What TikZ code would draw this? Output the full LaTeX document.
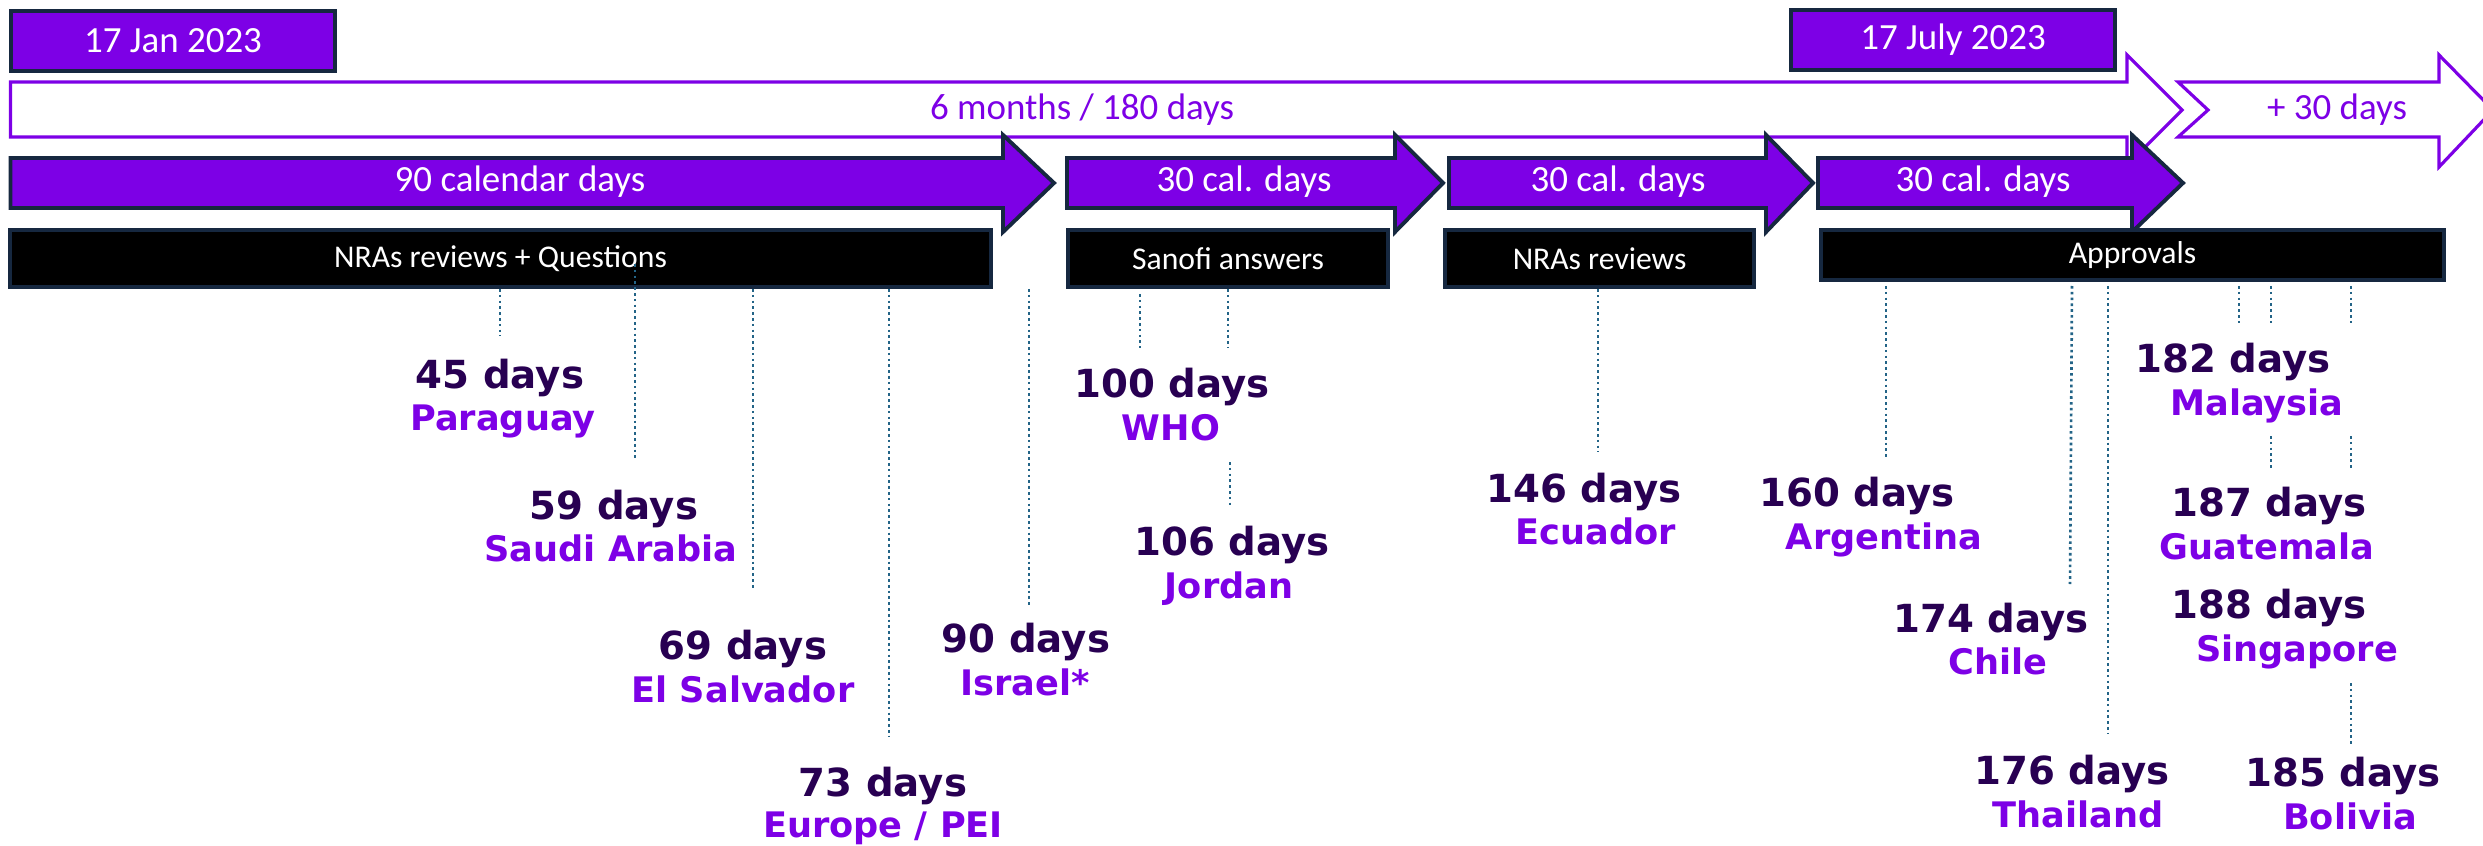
\documentclass[tikz,border=0pt]{standalone}
\usepackage{fontspec}
\setmainfont{Carlito}
\newfontfamily\daysfont{DejaVu Sans}
\definecolor{vio}{RGB}{125,0,230}
\definecolor{navy}{RGB}{22,40,64}
\definecolor{daycol}{RGB}{40,0,82}
\definecolor{leadcol}{RGB}{35,100,135}
\begin{document}
\begin{tikzpicture}[x=0.01cm, y=-0.01cm,
		datebox/.style={draw=navy, line width=1.1pt, fill=vio, text=white, inner sep=0pt, font=\fontsize{10.5}{12}\selectfont},
		phasebox/.style={draw=navy, line width=1.1pt, fill=black, text=white, inner sep=0pt, font=\fontsize{9}{11}\selectfont},
		openarrow/.style={draw=vio, line width=0.9pt, fill=white, line join=miter},
		fullarrow/.style={draw=navy, line width=1.1pt, fill=vio, line join=miter},
		barlabel/.style={text=white, font=\fontsize{10.5}{12}\selectfont},
		days/.style={anchor=base, inner sep=0pt, text=daycol, font=\daysfont\bfseries\fontsize{11}{13}\selectfont},
		land/.style={anchor=base, inner sep=0pt, text=vio, font=\daysfont\bfseries\fontsize{10}{12}\selectfont},
		leader/.style={draw=leadcol, line width=0.75pt, dash pattern=on 0.75pt off 0.9pt}]
	\useasboundingbox (0,0) rectangle (2483,846);

	\node[datebox, minimum width=3.243cm, minimum height=0.603cm] (jan) at (173,41) {17 Jan 2023};
	\node[datebox, minimum width=3.24cm, minimum height=0.593cm] (jul) at (1953,40) {17 July 2023};

	\draw[openarrow] (10.5,82) -- (2127,82) -- (2127,55) -- (2182,110) -- (2127,165) -- (2127,137) -- (10.5,137) -- cycle;
	\node[text=vio, font=\fontsize{10.5}{12}\selectfont] (six) at (1082,110) {6 months / 180 days};
	\draw[openarrow] (2178,82) -- (2439,82) -- (2439,55) -- (2493,110) -- (2439,167) -- (2439,137) -- (2178,137) -- (2208,110) -- cycle;
	\node[text=vio, font=\fontsize{10.5}{12}\selectfont] (plus) at (2337,110) {+ 30 days};

	\draw[fullarrow] (10.5,158) -- (1003,158) -- (1003,135) -- (1054,183) -- (1003,232) -- (1003,208) -- (10.5,208) -- cycle;
	\draw[fullarrow] (1067,158) -- (1395,158) -- (1395,135) -- (1443,183) -- (1395,232) -- (1395,208) -- (1067,208) -- cycle;
	\draw[fullarrow] (1449,158) -- (1766,158) -- (1766,135) -- (1813,183) -- (1766,232) -- (1766,208) -- (1449,208) -- cycle;
	\draw[fullarrow] (1818,158) -- (2132,158) -- (2132,135) -- (2183,183) -- (2132,232) -- (2132,208) -- (1818,208) -- cycle;
	\node[barlabel] (cal90) at (520,182) {90 calendar days};
	\node[barlabel] (cal30a) at (1244,182) {30 cal. days};
	\node[barlabel] (cal30b) at (1618,182) {30 cal. days};
	\node[barlabel] (cal30c) at (1983,182) {30 cal. days};

	\node[phasebox, minimum width=9.8cm, minimum height=0.57cm] (nrq) at (500.5,258.5) {NRAs reviews + Questions};
	\node[phasebox, minimum width=3.2cm, minimum height=0.57cm] (san) at (1228,258.5) {Sanofi answers};
	\node[phasebox, minimum width=3.09cm, minimum height=0.57cm] (nra) at (1599.5,258.5) {NRAs reviews};
	\node[phasebox, minimum width=6.23cm, minimum height=0.5cm] (appr) at (2132.5,255) {Approvals};

	\node[days] (d45) at (500,388) {45 days};
	\node[land] (c45) at (503,430) {Paraguay};
	\node[days] (d59) at (614,519) {59 days};
	\node[land] (c59) at (611,561) {Saudi Arabia};
	\node[days] (d69) at (743,659) {69 days};
	\node[land] (c69) at (743,702) {El Salvador};
	\node[days] (d73) at (883,796) {73 days};
	\node[land] (c73) at (883,837) {Europe / PEI};
	\node[days] (d90) at (1026,652) {90 days};
	\node[land] (c90) at (1025,695) {Israel*};
	\node[days] (d100) at (1172,397) {100 days};
	\node[land] (c100) at (1171,440) {WHO};
	\node[days] (d106) at (1232,555) {106 days};
	\node[land] (c106) at (1229,598) {Jordan};
	\node[days] (d146) at (1584,502) {146 days};
	\node[land] (c146) at (1596,544) {Ecuador};
	\node[days] (d160) at (1857,506) {160 days};
	\node[land] (c160) at (1884,549) {Argentina};
	\node[days] (d174) at (1991,632) {174 days};
	\node[land] (c174) at (1998,674) {Chile};
	\node[days] (d176) at (2072,784) {176 days};
	\node[land] (c176) at (2078,827) {Thailand};
	\node[days] (d182) at (2233,373) {182 days};
	\node[land] (c182) at (2257,416) {Malaysia};
	\node[days] (d187) at (2269,516) {187 days};
	\node[land] (c187) at (2267,559) {Guatemala};
	\node[days] (d188) at (2269,618) {188 days};
	\node[land] (c188) at (2297,661) {Singapore};
	\node[days] (d185) at (2343,786) {185 days};
	\node[land] (c185) at (2350,829) {Bolivia};

	\coordinate (s59) at (635,264);
	\coordinate (s100) at (1140,294);
	\draw[leader] (nrq.south -| 500,0) -- (500,336);
	\draw[leader] (s59) -- (635,458);
	\draw[leader] (nrq.south -| 753,0) -- (753,588);
	\draw[leader] (nrq.south -| 889,0) -- (889,736);
	\draw[leader] (nrq.south -| 1029,0) -- (1029,605);
	\draw[leader] (s100) -- (1140,348);
	\draw[leader] (san.south -| 1228,0) -- (1228,347);
	\draw[leader] (1230,462) -- (1230,506);
	\draw[leader] (nra.south -| 1598,0) -- (1598,452);
	\draw[leader] (1886,286) -- (1886,458);
	\draw[leader] (2072,286) -- (2070,584);
	\draw[leader] (2108,286) -- (2108,734);
	\draw[leader] (2239,286) -- (2239,324);
	\draw[leader] (2271,286) -- (2271,324);
	\draw[leader] (2351,286) -- (2351,324);
	\draw[leader] (2271,436) -- (2271,468);
	\draw[leader] (2351,436) -- (2351,468);
	\draw[leader] (2351,683) -- (2351,746);
\end{tikzpicture}
\end{document}
